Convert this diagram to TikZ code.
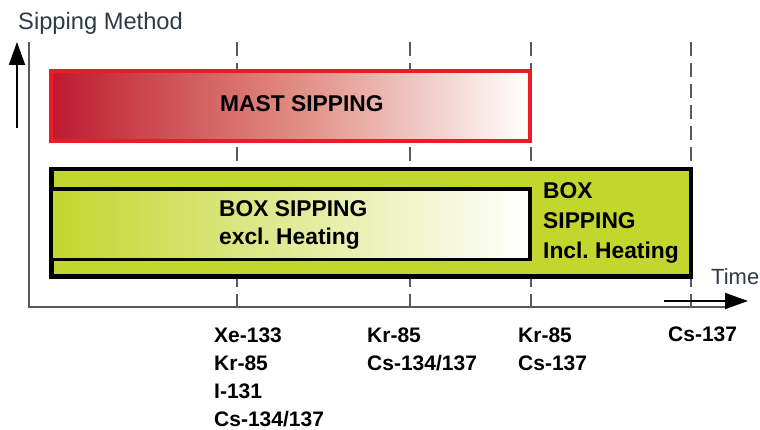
\documentclass[tikz,border=0pt]{standalone}
\usepackage{fontspec}
\setmainfont{Liberation Sans}
\usetikzlibrary{arrows.meta}
\definecolor{axisgray}{RGB}{90,90,90}
\definecolor{mastred}{RGB}{237,28,36}
\definecolor{deepred}{RGB}{190,26,48}
\definecolor{midred}{RGB}{224,138,128}
\definecolor{boxgreen}{RGB}{194,214,46}
\definecolor{labelblue}{RGB}{45,58,72}
\frenchspacing
\begin{document}
\begin{tikzpicture}[x=1pt,y=-1pt,
  axisline/.style={draw=axisgray, line width=1.3pt},
  guide/.style={draw=axisgray, line width=1.5pt, dash pattern=on 14pt off 7pt},
  boxlabel/.style={font=\fontsize{22.8}{28.3}\selectfont\bfseries, inner sep=0pt, align=left},
  isolabel/.style={font=\fontsize{21}{28.3}\selectfont\bfseries, inner sep=0pt, align=left, anchor=north west},
  axislabel/.style={text=labelblue, inner sep=0pt, anchor=base west},
  bigarrow/.style={line width=2pt, -{Triangle[length=23pt,width=16pt]}}]
\useasboundingbox (0,0) rectangle (760,430);

% guide lines
\foreach \gx in {237,410,531,691} \draw[guide] (\gx,42) -- (\gx,307);

% axes
\coordinate (origin) at (29,307);
\coordinate (ytop) at (29,42);
\coordinate (xend) at (725,307);
\draw[axisline] (ytop) -- (origin) -- (xend);

% mast sipping box
\draw[draw=mastred, line width=4pt, left color=deepred, right color=white, middle color=midred] (51,71) rectangle (530,141);

% box sipping boxes
\draw[line width=4.5pt, fill=boxgreen] (51.25,169.25) rectangle (690.75,276.75);
\draw[line width=3.5pt, left color=boxgreen, right color=white] (51,189) rectangle (530,259.5);

% labels
\node[boxlabel, anchor=base west] (mast) at (220,111.7) {MAST SIPPING};
\node[boxlabel, anchor=north west] (boxex) at (219,200.2) {BOX SIPPING\\excl. Heating};
\node[boxlabel, anchor=north west, font=\fontsize{22.8}{30}\selectfont\bfseries] (boxin) at (543,182.6) {BOX\\SIPPING\\Incl. Heating};

\node[isolabel] (iso1) at (214,327.2) {Xe-133\\Kr-85\\I-131\\Cs-134/137};
\node[isolabel] (iso2) at (367,327.2) {Kr-85\\Cs-134/137};
\node[isolabel] (iso3) at (518,327.2) {Kr-85\\Cs-137};
\node[isolabel] (iso4) at (668,326.8) {Cs-137};

\node[axislabel, font=\fontsize{23.7}{28}\selectfont] (ylabel) at (18,30) {Sipping Method};
\node[axislabel, font=\fontsize{22}{26}\selectfont] (xlabel) at (711,284) {Time};

% arrows
\coordinate (upstart) at (17,128);
\coordinate (uptip) at (17,42);
\draw[bigarrow] (upstart) -- (uptip);
\coordinate (rstart) at (664,301);
\coordinate (rtip) at (748,301);
\draw[bigarrow] (rstart) -- (rtip);
\end{tikzpicture}
\end{document}
